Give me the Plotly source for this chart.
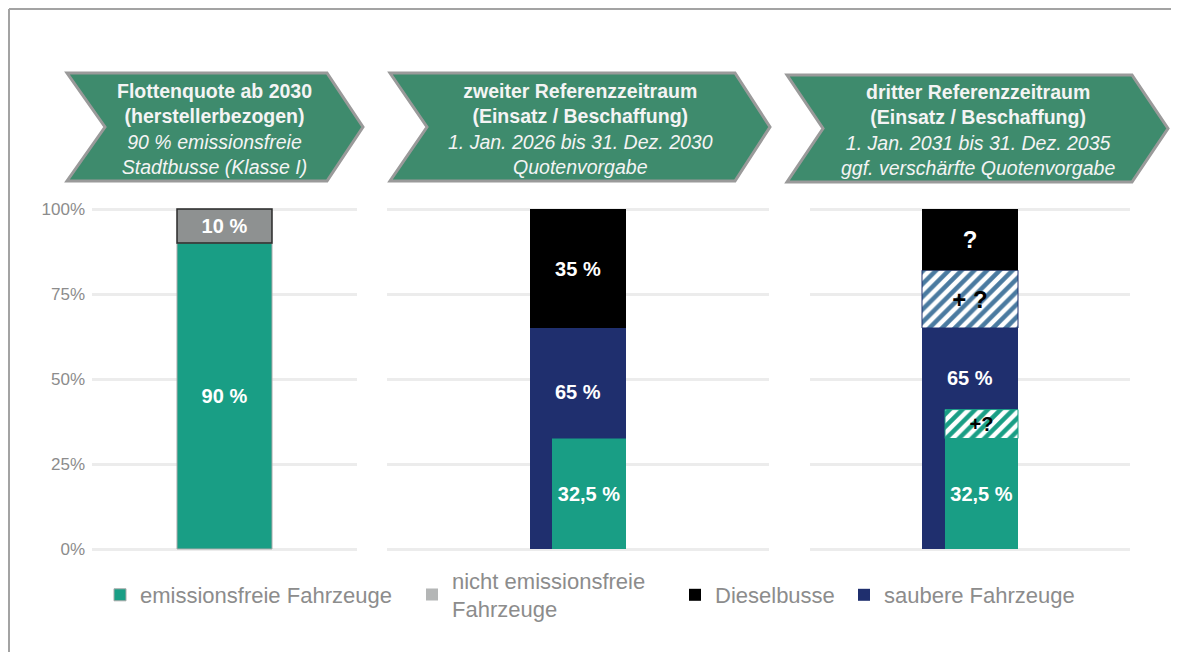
import plotly.graph_objects as go

# ---------------- data ----------------
panels = ["Flottenquote ab 2030", "zweiter Referenzzeitraum", "dritter Referenzzeitraum"]
emissionsfrei = [90, 32.5, 32.5]          # emissionsfreie Fahrzeuge
emissionsfrei_plus = [None, None, 8.5]    # + ? (zusätzlich emissionsfrei, schraffiert)
nicht_emissionsfrei = [10, None, None]    # nicht emissionsfreie Fahrzeuge
sauber = [None, 65, 65]                   # saubere Fahrzeuge
sauber_plus = [None, None, 17]            # + ? (zusätzlich sauber, schraffiert)
diesel = [None, 35, 18]                   # Dieselbusse

emissionsfrei_labels = ["90 %", "32,5 %", "32,5 %"]
emissionsfrei_plus_labels = [None, None, "+?"]
nicht_labels = ["10 %", None, None]
sauber_labels = [None, "65 %", "65 %"]
sauber_plus_labels = [None, None, "+ ?"]
diesel_labels = [None, "35 %", "?"]

y_tickvals = [0, 25, 50, 75, 100]
y_ticktext = ["0%", "25%", "50%", "75%", "100%"]

header_bold = [
    ["Flottenquote ab 2030", "(herstellerbezogen)"],
    ["zweiter Referenzzeitraum", "(Einsatz / Beschaffung)"],
    ["dritter Referenzzeitraum", "(Einsatz / Beschaffung)"],
]
header_italic = [
    ["90 % emissionsfreie", "Stadtbusse (Klasse I)"],
    ["1. Jan. 2026 bis 31. Dez. 2030", "Quotenvorgabe"],
    ["1. Jan. 2031 bis 31. Dez. 2035", "ggf. verschärfte Quotenvorgabe"],
]

legend_names = ["emissionsfreie Fahrzeuge", "nicht emissionsfreie<br>Fahrzeuge",
                "Dieselbusse", "saubere Fahrzeuge"]

# ---------------- style / layout (page pixels) ----------------
W, H = 1179, 652
OX, OY = 8, 8          # page offset of the plot div (default body margin)
FONT = "Liberation Sans, Arial, sans-serif"
GREEN = "#199e85"
GRAY_BAR = "#8e9191"
GRAY_LEG = "#b4b6b6"
NAVY = "#1f2f6e"
HATCH_BLUE = "#4a7aa0"
BLACK = "#000000"
GRID = "#ececec"
TXT_GRAY = "#8c8c8c"
HEAD_FILL = "#3e8b6d"
HEAD_LINE = "#9a9a9a"

panel_px = [(92, 357), (387, 769), (810, 1130)]
bar_px = [(177, 272), (530, 626), (922, 1018)]
narrow_left_px = [177, 552, 945]
y0_px, y100_px = 549, 209


def px(x):
    return (x - OX) / W


def py(y):
    return 1 - (y - OY) / H


unit = (y0_px - y100_px) / 100.0
ydom = [py(y0_px + unit), py(y100_px - unit)]

fig = go.Figure()


def add_bar(i, value, base, left_px, color, text, textcolor, textsize,
            line_color=None, line_width=0, pattern=None, legend=None, name=None):
    pl, pr = panel_px[i]
    pw = pr - pl
    center = (pl + pr) / 2
    right = bar_px[i][1]
    marker = dict(color=color, line=dict(color=line_color or color, width=line_width))
    if pattern:
        marker["pattern"] = pattern
    sfx = "" if i == 0 else str(i + 1)
    fig.add_trace(go.Bar(
        x=[panels[i]], y=[value], base=[base],
        offset=(left_px - center) / pw, width=(right - left_px) / pw,
        marker=marker,
        text=[text] if text else None,
        textposition="inside", insidetextanchor="middle", constraintext="none",
        textfont=dict(family=FONT, size=textsize, color=textcolor, weight="bold"),
        xaxis="x" + sfx, yaxis="y" + sfx,
        showlegend=legend is not None, legend=legend or "legend", name=name or "",
        hoverinfo="skip",
    ))


for i in range(3):
    full_left = bar_px[i][0]
    green_top = emissionsfrei[i] + (emissionsfrei_plus[i] or 0)
    if sauber[i] is not None:
        add_bar(i, sauber[i], 0, full_left, NAVY, None, "white", 20,
                legend="legend4" if i == 1 else None, name=legend_names[3])
    add_bar(i, emissionsfrei[i], 0, narrow_left_px[i], GREEN, emissionsfrei_labels[i],
            "white", 20, line_color="#a9a9a9" if i == 0 else GREEN,
            line_width=1 if i == 0 else 0,
            legend="legend" if i == 0 else None, name=legend_names[0])
    if emissionsfrei_plus[i] is not None:
        add_bar(i, emissionsfrei_plus[i], emissionsfrei[i], narrow_left_px[i], "white",
                emissionsfrei_plus_labels[i], "black", 20, line_color=GREEN, line_width=1,
                pattern=dict(shape="/", bgcolor="white", fgcolor=GREEN, size=9,
                             solidity=0.5, fillmode="replace"))
    if sauber_plus[i] is not None:
        add_bar(i, sauber_plus[i], sauber[i], full_left, "white", sauber_plus_labels[i],
                "black", 24, line_color=NAVY, line_width=1,
                pattern=dict(shape="/", bgcolor="white", fgcolor=HATCH_BLUE, size=9,
                             solidity=0.5, fillmode="replace"))
    if nicht_emissionsfrei[i] is not None:
        add_bar(i, nicht_emissionsfrei[i], emissionsfrei[i], full_left, GRAY_BAR,
                nicht_labels[i], "white", 20, line_color="#2a2a2a", line_width=1.5)
    if diesel[i] is not None:
        dbase = (sauber[i] or 0) + (sauber_plus[i] or 0)
        add_bar(i, diesel[i], dbase, full_left, BLACK, diesel_labels[i], "white",
                20 if diesel_labels[i] != "?" else 24,
                legend="legend3" if i == 1 else None, name=legend_names[2])
    if sauber[i] is not None:
        sfx = "" if i == 0 else str(i + 1)
        fig.add_annotation(x=panels[i], y=(green_top + sauber[i]) / 2, yshift=-9,
                           xref="x" + sfx, yref="y" + sfx, text=sauber_labels[i],
                           showarrow=False,
                           font=dict(family=FONT, size=20, color="white", weight="bold"))

# legend entry for the grey series (lighter symbol as in the reference legend)
fig.add_trace(go.Bar(x=[None], y=[None], marker=dict(color=GRAY_LEG),
                     name=legend_names[1], legend="legend2", showlegend=True,
                     xaxis="x", yaxis="y", hoverinfo="skip"))

# ---------------- axes ----------------
layout_axes = {}
for i in range(3):
    sfx = "" if i == 0 else str(i + 1)
    layout_axes["xaxis" + sfx] = dict(
        domain=[px(panel_px[i][0]), px(panel_px[i][1])], range=[-0.5, 0.5],
        type="category", showticklabels=False, showgrid=False, zeroline=False,
        showline=False, ticks="", anchor="y" + sfx, fixedrange=True)
    layout_axes["yaxis" + sfx] = dict(
        domain=ydom, range=[-1, 101], tickvals=y_tickvals, ticktext=y_ticktext,
        showticklabels=(i == 0), showgrid=True, gridcolor=GRID, gridwidth=2.5,
        zeroline=False, showline=False, ticks="", ticklabelstandoff=6,
        tickfont=dict(family=FONT, size=17, color=TXT_GRAY),
        anchor="x" + sfx, fixedrange=True)

# ---------------- header chevrons ----------------
arrows = [  # left, top-right, tip, notch, top, bottom
    (67, 327, 363, 105, 73, 181),
    (390, 735, 770, 427, 73, 181),
    (787, 1132, 1168, 823, 75, 182),
]
shapes = []
annotations = list(fig.layout.annotations)
for k, (l, tr, tip, notch, t, b) in enumerate(arrows):
    m = (t + b) / 2
    path = (f"M{px(l)},{py(t)} L{px(tr)},{py(t)} L{px(tip)},{py(m)} "
            f"L{px(tr)},{py(b)} L{px(l)},{py(b)} L{px(notch)},{py(m)} Z")
    shapes.append(dict(type="path", path=path, xref="paper", yref="paper",
                       fillcolor=HEAD_FILL, line=dict(color=HEAD_LINE, width=3),
                       layer="below"))
    txt = "<br>".join([f"<b>{s}</b>" for s in header_bold[k]] +
                      [f"<i>{s}</i>" for s in header_italic[k]])
    annotations.append(dict(x=px((l + tip) / 2), y=py(m + 2), xref="paper", yref="paper",
                            xanchor="center", yanchor="middle", text=txt,
                            showarrow=False, align="center",
                            font=dict(family=FONT, size=19.5, color="#f4f4f4")))

# frame lines (top and left)
shapes.append(dict(type="line", xref="paper", yref="paper", x0=px(9), x1=1, y0=py(9),
                   y1=py(9), line=dict(color="#a3a3a3", width=2)))
shapes.append(dict(type="line", xref="paper", yref="paper", x0=px(9), x1=px(9), y0=0,
                   y1=py(9), line=dict(color="#a3a3a3", width=2)))

# ---------------- legends ----------------
legend_centers_px = [120, 432, 695, 864]
legend_y_px = 595
legend_keys = ["legend", "legend2", "legend3", "legend4"]
legends = {}
for key, cx in zip(legend_keys, legend_centers_px):
    legends[key] = dict(x=px(cx - 20), y=py(legend_y_px), xanchor="left", yanchor="middle",
                        orientation="h", bgcolor="rgba(0,0,0,0)", borderwidth=0,
                        font=dict(family=FONT, size=22, color=TXT_GRAY))

fig.update_layout(
    width=W, height=H, template="none",
    margin=dict(l=0, r=0, t=0, b=0),
    paper_bgcolor="white", plot_bgcolor="rgba(0,0,0,0)",
    barmode="overlay",
    shapes=shapes, annotations=annotations,
    **layout_axes, **legends,
)

fig.write_html("out.html")
